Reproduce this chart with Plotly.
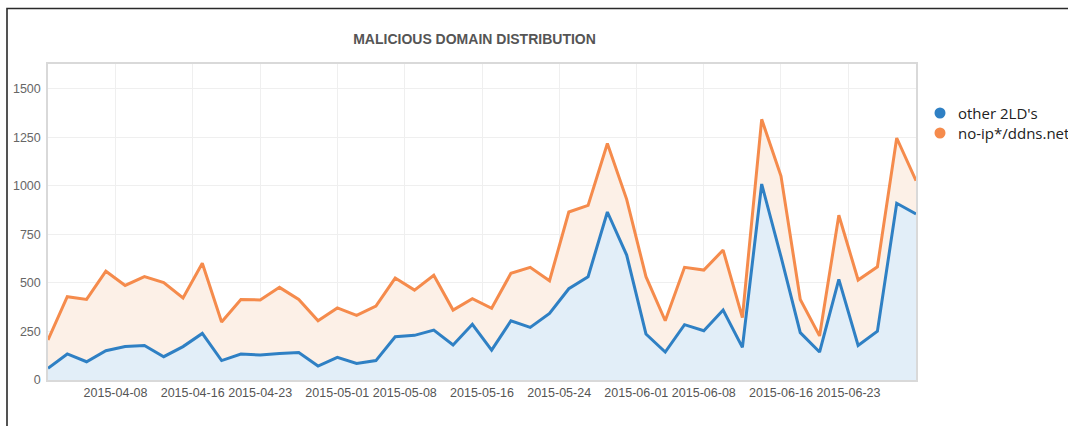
import plotly.graph_objects as go
import pandas as pd

# ---- data ----
dates = pd.date_range("2015-04-01", periods=46, freq="2D")
other_2ld = [60, 134, 94, 151, 172, 178, 120, 172, 240, 100, 134, 129, 137, 141, 72, 117, 85,
             100, 223, 230, 257, 180, 287, 154, 305, 271, 343, 470, 532, 865, 643, 237, 144,
             285, 254, 360, 168, 1009, 635, 244, 144, 518, 178, 251, 910, 855]
noip_ddns = [146, 295, 321, 409, 315, 354, 381, 250, 361, 199, 281, 283, 340, 274, 233, 254, 248,
             281, 302, 233, 282, 180, 132, 215, 244, 309, 168, 395, 367, 353, 287, 295, 161,
             295, 312, 309, 153, 333, 415, 171, 83, 330, 337, 332, 336, 171]
tick_dates = ["2015-04-08", "2015-04-16", "2015-04-23", "2015-05-01", "2015-05-08", "2015-05-16",
              "2015-05-24", "2015-06-01", "2015-06-08", "2015-06-16", "2015-06-23"]
y_ticks = [0, 250, 500, 750, 1000, 1250, 1500]
series_names = ["other 2LD's", "no-ip*/ddns.net"]

BLUE = "#2f80c4"
ORANGE = "#f58b4c"
BLUE_FILL = "#e2eef8"
ORANGE_FILL = "#fcf0e7"
SERIES_COLORS = [BLUE, ORANGE]

W, H = 1068, 426
L, R, T, B = 48, 152, 64, 46
PW, PH = W - L - R, H - T - B

fig = go.Figure()
fig.add_trace(go.Scatter(x=dates, y=other_2ld, name=series_names[0], mode="lines",
                         stackgroup="one", line=dict(color=BLUE, width=3),
                         fillcolor=BLUE_FILL))
fig.add_trace(go.Scatter(x=dates, y=noip_ddns, name=series_names[1], mode="lines",
                         stackgroup="one", line=dict(color=ORANGE, width=3),
                         fillcolor=ORANGE_FILL))


def px_x(px):
    return (px - L) / PW


def px_y(py):
    return 1 - (py - T) / PH


# legend drawn as circles + text (text runs off the right edge as in the original)
legend_rows_y = [113, 133]
shapes = [dict(type="path", xref="paper", yref="paper",
               path=f"M {px_x(7)},{px_y(H + 2)} L {px_x(7)},{px_y(8.5)} L {px_x(W + 2)},{px_y(8.5)}",
               line=dict(color="#2a2a2a", width=1.6))]
annotations = []
for name, col, ry in zip(series_names, SERIES_COLORS, legend_rows_y):
    shapes.append(dict(type="circle", xref="paper", yref="paper",
                       xsizemode="pixel", ysizemode="pixel",
                       xanchor=px_x(940), yanchor=px_y(ry),
                       x0=-5.5, x1=5.5, y0=-5.5, y1=5.5,
                       fillcolor=col, line=dict(width=0)))
    annotations.append(dict(text=name, xref="paper", yref="paper",
                            x=px_x(956), y=px_y(ry), xanchor="left", yanchor="middle",
                            showarrow=False,
                            font=dict(size=15, color="#222", family="Open Sans, sans-serif")))

fig.update_layout(
    width=W, height=H,
    margin=dict(l=L, r=R, t=T, b=B, pad=0),
    paper_bgcolor="white", plot_bgcolor="white",
    showlegend=False,
    font=dict(family="Liberation Sans, Arial, sans-serif", color="#555"),
    title=dict(text="<b>MALICIOUS DOMAIN DISTRIBUTION</b>",
               font=dict(size=14, color="#555", family="Liberation Sans, Arial, sans-serif"),
               x=474.5 / W, xanchor="center", y=1 - 39 / H, yanchor="middle"),
    xaxis=dict(type="date", range=[dates[0], dates[-1]],
               tickvals=tick_dates, ticktext=tick_dates, tickangle=0,
               showgrid=True, gridcolor="#efefef", gridwidth=1,
               showline=True, linecolor="#d9d9d9", linewidth=1.5, mirror=True,
               ticks="", tickfont=dict(size=12.5, color="#555"), zeroline=False),
    yaxis=dict(range=[0, 1627], tickvals=y_ticks,
               showgrid=True, gridcolor="#efefef", gridwidth=1,
               showline=True, linecolor="#d9d9d9", linewidth=1.5, mirror=True,
               ticks="", tickfont=dict(size=12.5, color="#666"), zeroline=False,
               ticklabelstandoff=3),
    shapes=shapes,
    annotations=annotations,
)

fig.write_html("out.html", post_script="document.body.style.margin='0';",
               config={"displayModeBar": False})
